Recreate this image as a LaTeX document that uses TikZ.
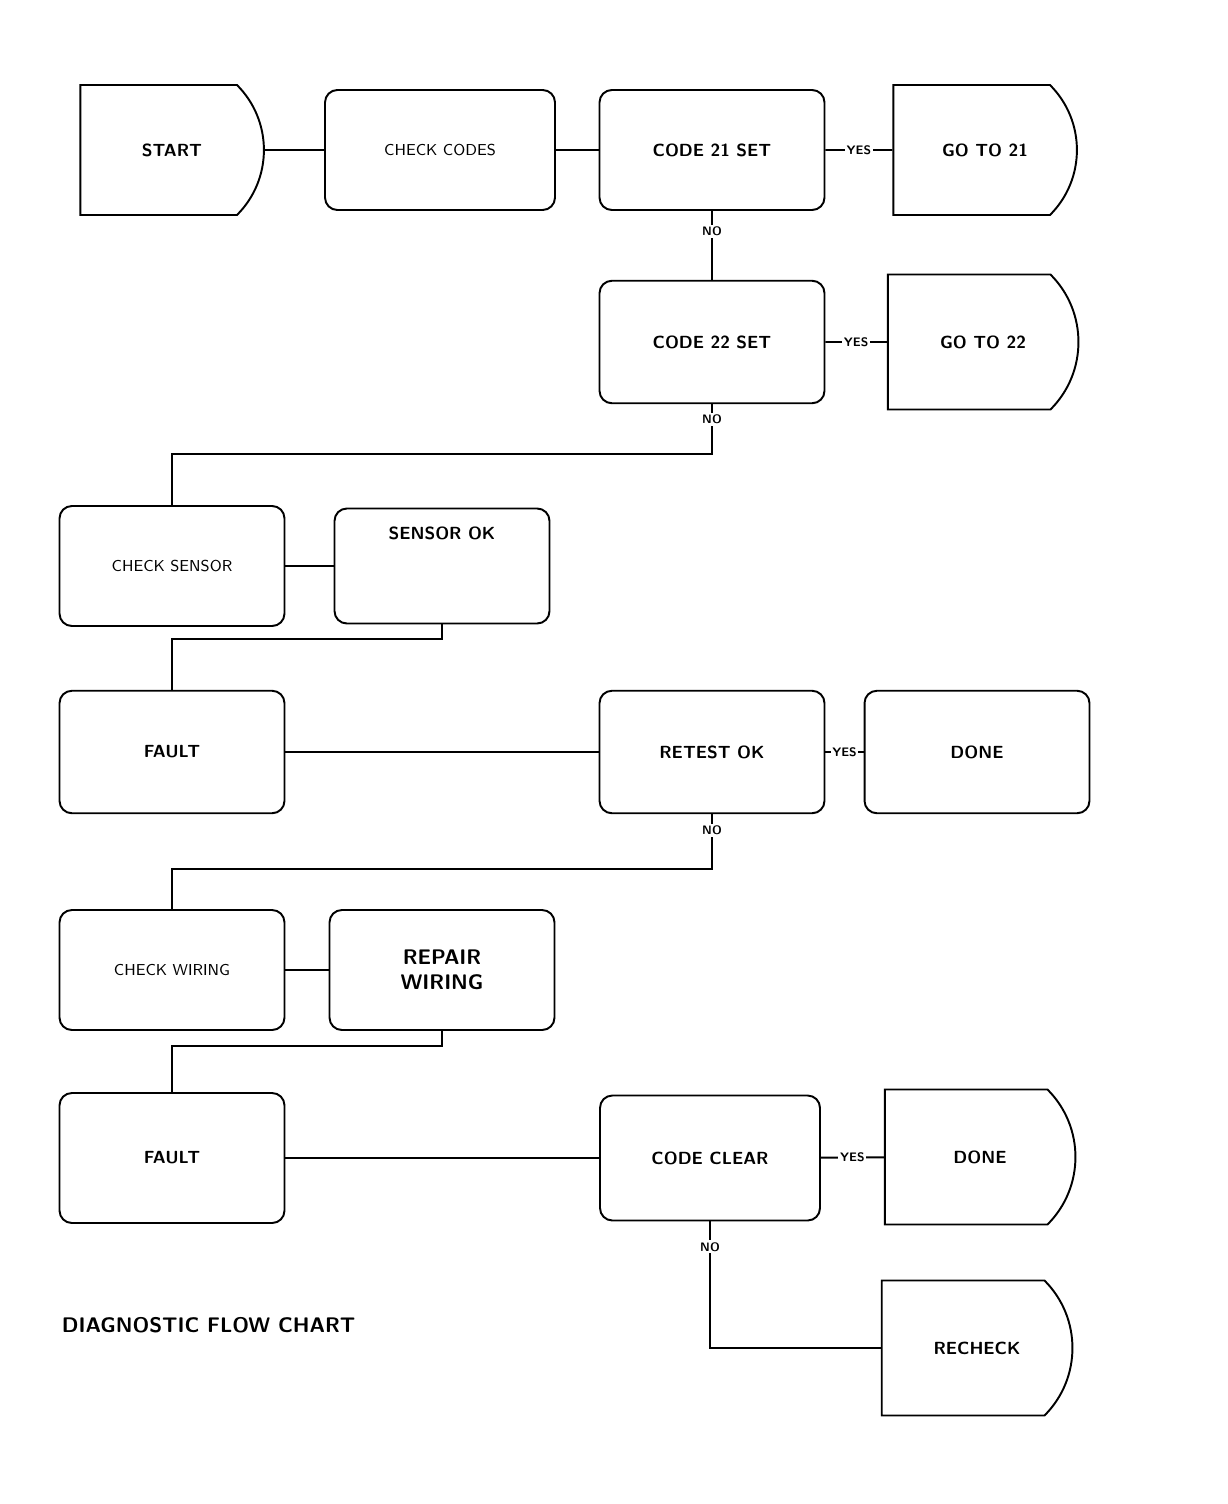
\documentclass[tikz,border=0pt]{standalone}
\usepackage{amsmath}
\usepackage{xcolor}
\usepackage{tikz}
\usetikzlibrary{arrows,shapes.misc}
\usetikzlibrary{calc}
\usetikzlibrary{positioning}

\begin{document}
\begin{tikzpicture}[-,x=0.02cm,y=-0.02cm,line width=1.1pt,font=\sffamily\bfseries]
	\tikzstyle{box}=[draw=black, fill=white, rounded corners=7pt, align=center, minimum width=4.5cm, minimum height=2.45cm]
	\tikzstyle{goto}=[draw=black, fill=white, rounded rectangle, rounded rectangle west arc=none, rounded rectangle arc length=90, align=center, minimum width=3.8cm, minimum height=2.6cm]
	\tikzstyle{yn}=[fill=white, inner sep=1pt, font=\sffamily\bfseries\scriptsize]
	\useasboundingbox (0,0) rectangle (1227,1504);

	% row 1
	\node[goto] (start) at (172,150) [minimum width=3.7cm] {START};
	\node[box]  (check) at (440,150) [minimum width=4.6cm, minimum height=2.4cm, font=\sffamily\small] {CHECK CODES};
	\node[box]  (c21) at (712,150) [minimum height=2.4cm] {CODE 21 SET};
	\node[goto] (go21) at (985,150) {GO TO 21};
	% row 2
	\node[box]  (c22) at (712,342) {CODE 22 SET};
	\node[goto] (go22) at (983,342) [minimum width=3.7cm, minimum height=2.7cm] {GO TO 22};
	% row 3
	\node[box]  (sens) at (172,566) [minimum height=2.4cm, font=\sffamily\small] {CHECK SENSOR};
	\node[box, text depth=1.3cm]  (sensok) at (442,566) [minimum width=4.3cm, minimum height=2.3cm] {SENSOR OK};
	% row 4
	\node[box]  (fault) at (172,752) {FAULT};
	\node[box]  (retest) at (712,752) {RETEST OK};
	\node[box]  (done) at (977,752) {DONE};
	% row 5
	\node[box]  (wire) at (172,970) [minimum height=2.4cm, font=\sffamily\small] {CHECK WIRING};
	\node[box]  (repair) at (442,970) [minimum height=2.4cm, font=\sffamily\bfseries\large] {REPAIR\\WIRING};
	% row 6
	\node[box]  (fault2) at (172,1158) [minimum height=2.6cm] {FAULT};
	\node[box]  (clear) at (710,1158) [minimum width=4.4cm, minimum height=2.5cm] {CODE CLEAR};
	\node[goto] (done2) at (980,1157) [minimum height=2.7cm] {DONE};
	\node[goto] (recheck) at (977,1348) [minimum width=3.7cm, minimum height=2.7cm] {RECHECK};

	\node (fig) at (55,1325) [anchor=west, font=\sffamily\bfseries\large] {DIAGNOSTIC FLOW CHART};

	% connectors
	\draw (start) -- (check);
	\draw (check) -- (c21);
	\draw (c21) -- node[yn] {YES} (go21);
	\draw (c21) -- node[yn, pos=0.3] {NO} (c22);
	\draw (c22) -- node[yn] {YES} (go22);
	\draw (c22.south) -- node[yn, pos=0.3] {NO} ++(0,50) -| (sens.north);
	\draw (sens) -- (sensok);
	\draw (sensok.south) -- ++(0,15) -| (fault.north);
	\draw (fault) -- (retest);
	\draw (retest) -- node[yn] {YES} (done);
	\draw (retest.south) -- node[yn, pos=0.3] {NO} ++(0,55) -| (wire.north);
	\draw (wire) -- (repair);
	\draw (repair.south) -- ++(0,15) -| (fault2.north);
	\draw (fault2) -- (clear);
	\draw (clear) -- node[yn] {YES} (done2);
	\draw (clear.south) |- node[yn, pos=0.1] {NO} (recheck.west);
\end{tikzpicture}
\end{document}
